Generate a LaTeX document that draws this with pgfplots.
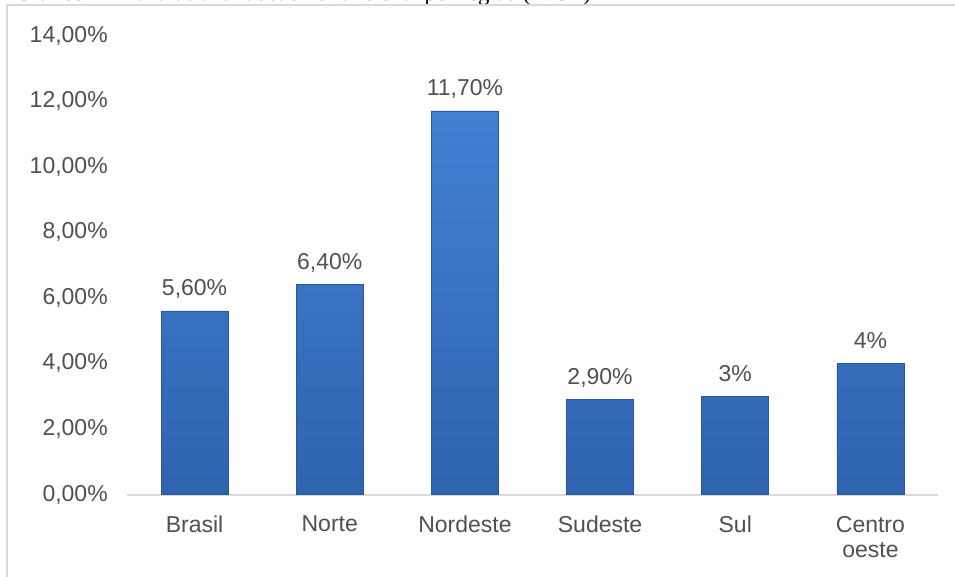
\documentclass[border=0pt]{standalone}
\usepackage{pgfplots}
\pgfplotsset{compat=1.18}
\usepackage{pgfplotstable}
\usepackage{fontspec}
\setmainfont{Liberation Sans}
\newfontfamily\seriffont{Liberation Serif}
\definecolor{txt}{HTML}{505050}
\definecolor{axl}{HTML}{D9D9D9}
\definecolor{bartop}{HTML}{4181D2}
\definecolor{barbot}{HTML}{2F63B0}
\definecolor{baredge}{HTML}{28579A}
\pgfplotstableread{
x y lab
0 5.6 {5,60\%}
1 6.4 {6,40\%}
2 11.7 {11,70\%}
3 2.9 {2,90\%}
4 3.0 {3\%}
5 4.0 {4\%}
}\datatable
\begin{document}
\begin{tikzpicture}
\clip (0,0) rectangle (716.25pt,432pt);
\fill[white] (0,0) rectangle (716.25pt,432pt);
\node[anchor=base west, inner sep=0pt, font=\seriffont\fontsize{17}{20}\selectfont, text=black] at (11.25pt,431.25pt) {Gráfico 1 – Taxa de analfabetismo funcional por região (IBGE)};
\draw[axl, line width=1.1pt] (5.25pt,428.25pt) rectangle (730pt,-10pt);
\begin{axis}[
  at={(95.25pt,61.125pt)}, anchor=south west,
  scale only axis, width=608.25pt, height=344.25pt,
  xmin=-0.5, xmax=5.5, ymin=0, ymax=14,
  axis x line*=bottom, axis y line*=left,
  x axis line style={draw=axl, line width=1.5pt, -},
  y axis line style={draw=none},
  major tick length=0pt,
  ytick={0,2,4,6,8,10,12,14},
  yticklabels={{0,00\%},{2,00\%},{4,00\%},{6,00\%},{8,00\%},{10,00\%},{12,00\%},{14,00\%}},
  xtick={0,1,2,3,4,5},
  xticklabels={Brasil,Norte,Nordeste,Sudeste,Sul,{Centro\\oeste}},
  yticklabel style={anchor=east, inner sep=0pt, xshift=-14.25pt, text=txt, font=\fontsize{17.25}{19}\selectfont},
  xticklabel style={anchor=north, align=center, inner sep=0pt, yshift=-16pt, text=txt, font=\fontsize{17.25}{19}\selectfont},
  ybar, bar width=50.25pt,
  nodes near coords={\pgfplotspointmeta},
  point meta=explicit symbolic,
  every node near coord/.append style={anchor=base, inner sep=0pt, yshift=11.25pt, text=txt, font=\fontsize{17.25}{19}\selectfont},
  clip=false,
]
\addplot[top color=bartop, bottom color=barbot, draw=baredge, line width=0.6pt] table[x=x, y=y, meta=lab] {\datatable};
\end{axis}
\end{tikzpicture}
\end{document}
